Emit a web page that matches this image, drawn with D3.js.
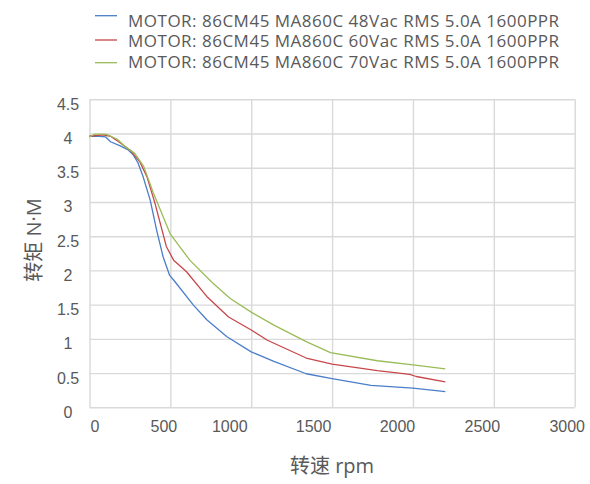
<!DOCTYPE html>
<html>
<head>
<meta charset="utf-8">
<script src="https://cdn.jsdelivr.net/npm/d3@7"></script>
<style>
  html, body { margin: 0; padding: 0; background: #fff; }
  svg { display: block; font-family: 'Open Sans', 'Noto Sans CJK SC', sans-serif; }
</style>
</head>
<body>
<div id="chart"></div>
<script>
// Torque vs speed curves, 86CM45 + MA860C at three supply voltages

const SERIES_NAMES = [
  'MOTOR: 86CM45 MA860C 48Vac RMS 5.0A 1600PPR',
  'MOTOR: 86CM45 MA860C 60Vac RMS 5.0A 1600PPR',
  'MOTOR: 86CM45 MA860C 70Vac RMS 5.0A 1600PPR',
];
const SERIES_COLORS = ['#4a7ec9', '#c8474a', '#9bbb59'];

// [rpm, N·M]
const V48 = [
  [0, 3.96], [60, 3.96], [100, 3.95], [130, 3.88], [190, 3.82], [240, 3.76],
  [270, 3.69], [300, 3.57], [330, 3.38], [375, 3.03], [415, 2.59], [455, 2.2],
  [495, 1.93], [520, 1.86], [640, 1.5], [725, 1.28], [850, 1.03], [1000, 0.81],
  [1140, 0.67], [1340, 0.49], [1500, 0.42], [1740, 0.32], [2000, 0.28], [2200, 0.23],
];
const V60 = [
  [0, 3.96], [85, 3.98], [130, 3.96], [180, 3.88], [250, 3.76], [310, 3.59],
  [355, 3.37], [405, 2.98], [475, 2.35], [520, 2.15], [600, 1.98], [725, 1.62],
  [860, 1.32], [1000, 1.13], [1100, 0.98], [1340, 0.72], [1500, 0.63], [1780, 0.535],
  [1980, 0.48], [2020, 0.45], [2200, 0.37],
];
const V70 = [
  [0, 3.95], [30, 3.99], [100, 3.99], [170, 3.92], [220, 3.81], [280, 3.71],
  [335, 3.52], [395, 3.13], [500, 2.53], [620, 2.15], [760, 1.82], [870, 1.59],
  [1000, 1.39], [1140, 1.2], [1340, 0.96], [1490, 0.8], [1780, 0.68], [2000, 0.62],
  [2200, 0.56],
];
const SERIES = [V48, V60, V70];

const X_TICKS = [0, 500, 1000, 1500, 2000, 2500, 3000];
const Y_TICKS = [0, 0.5, 1, 1.5, 2, 2.5, 3, 3.5, 4, 4.5];
const X_TITLE = '转速 rpm';
const Y_TITLE = '转矩 N·M';

// label nudges seen in the original picture (layout only)
const X_LABEL_DX = [5, -7, -22, -19, -16, -12, -8];

const width = 590, height = 484;
const plot = { left: 89.5, right: 574.7, top: 99.3, bottom: 407.3 };

const svg = d3.select('#chart').append('svg')
  .attr('width', width)
  .attr('height', height);

const x = d3.scaleLinear().domain([0, 3000]).range([plot.left, plot.right]);
const y = d3.scaleLinear().domain([0, 4.5]).range([plot.bottom, plot.top]);

const GRID = '#d9d9d9';
const TEXT = '#595959';

// gridlines
svg.append('g')
  .attr('transform', `translate(0,${plot.bottom})`)
  .call(d3.axisBottom(x).tickValues(X_TICKS).tickSize(-(plot.bottom - plot.top)).tickFormat(''))
  .call(g => g.select('.domain').remove())
  .call(g => g.selectAll('line').attr('stroke', GRID).attr('stroke-width', 1.4));

svg.append('g')
  .attr('transform', `translate(${plot.left},0)`)
  .call(d3.axisLeft(y).tickValues(Y_TICKS).tickSize(-(plot.right - plot.left)).tickFormat(''))
  .call(g => g.select('.domain').remove())
  .call(g => g.selectAll('line').attr('stroke', GRID).attr('stroke-width', 1.4));

// tick labels
svg.append('g')
  .attr('transform', `translate(0,${plot.bottom})`)
  .call(d3.axisBottom(x).tickValues(X_TICKS).tickSize(0).tickPadding(0).tickFormat(d3.format('d')))
  .call(g => g.select('.domain').remove())
  .call(g => g.selectAll('text')
    .attr('y', 25)
    .attr('dy', null)
    .attr('dx', (d, i) => X_LABEL_DX[i])
    .attr('fill', TEXT)
    .attr('font-size', 16)
    .attr('font-family', null));

svg.append('g')
  .call(d3.axisLeft(y).tickValues(Y_TICKS).tickSize(0).tickFormat(d => String(d)))
  .call(g => g.select('.domain').remove())
  .call(g => g.selectAll('text')
    .attr('x', 68)
    .attr('dy', 10)
    .attr('text-anchor', 'middle')
    .attr('fill', TEXT)
    .attr('font-size', 16)
    .attr('font-family', null));

// curves
const line = d3.line().x(d => x(d[0])).y(d => y(d[1]));
svg.append('g')
  .selectAll('path')
  .data(SERIES)
  .join('path')
  .attr('d', line)
  .attr('fill', 'none')
  .attr('stroke', (d, i) => SERIES_COLORS[i])
  .attr('stroke-width', 1.3)
  .attr('stroke-linejoin', 'round');

// legend
const legendLineY = [15.7, 40, 62.7];
const legendTextY = [26.7, 47.3, 68.3];
const legend = svg.append('g');
SERIES_NAMES.forEach((name, i) => {
  legend.append('line')
    .attr('x1', 95).attr('x2', 117)
    .attr('y1', legendLineY[i]).attr('y2', legendLineY[i])
    .attr('stroke', SERIES_COLORS[i])
    .attr('stroke-width', 1.3);
  legend.append('text')
    .attr('x', 128)
    .attr('y', legendTextY[i])
    .attr('fill', TEXT)
    .attr('font-size', 17)
    .attr('letter-spacing', 0.5)
    .text(name);
});

// axis titles
svg.append('text')
  .attr('x', 332)
  .attr('y', 473)
  .attr('text-anchor', 'middle')
  .attr('fill', TEXT)
  .attr('font-size', 20)
  .text(X_TITLE);

svg.append('text')
  .attr('transform', 'translate(41,240) rotate(-90)')
  .attr('text-anchor', 'middle')
  .attr('fill', TEXT)
  .attr('font-size', 20)
  .text(Y_TITLE);
</script>
</body>
</html>
